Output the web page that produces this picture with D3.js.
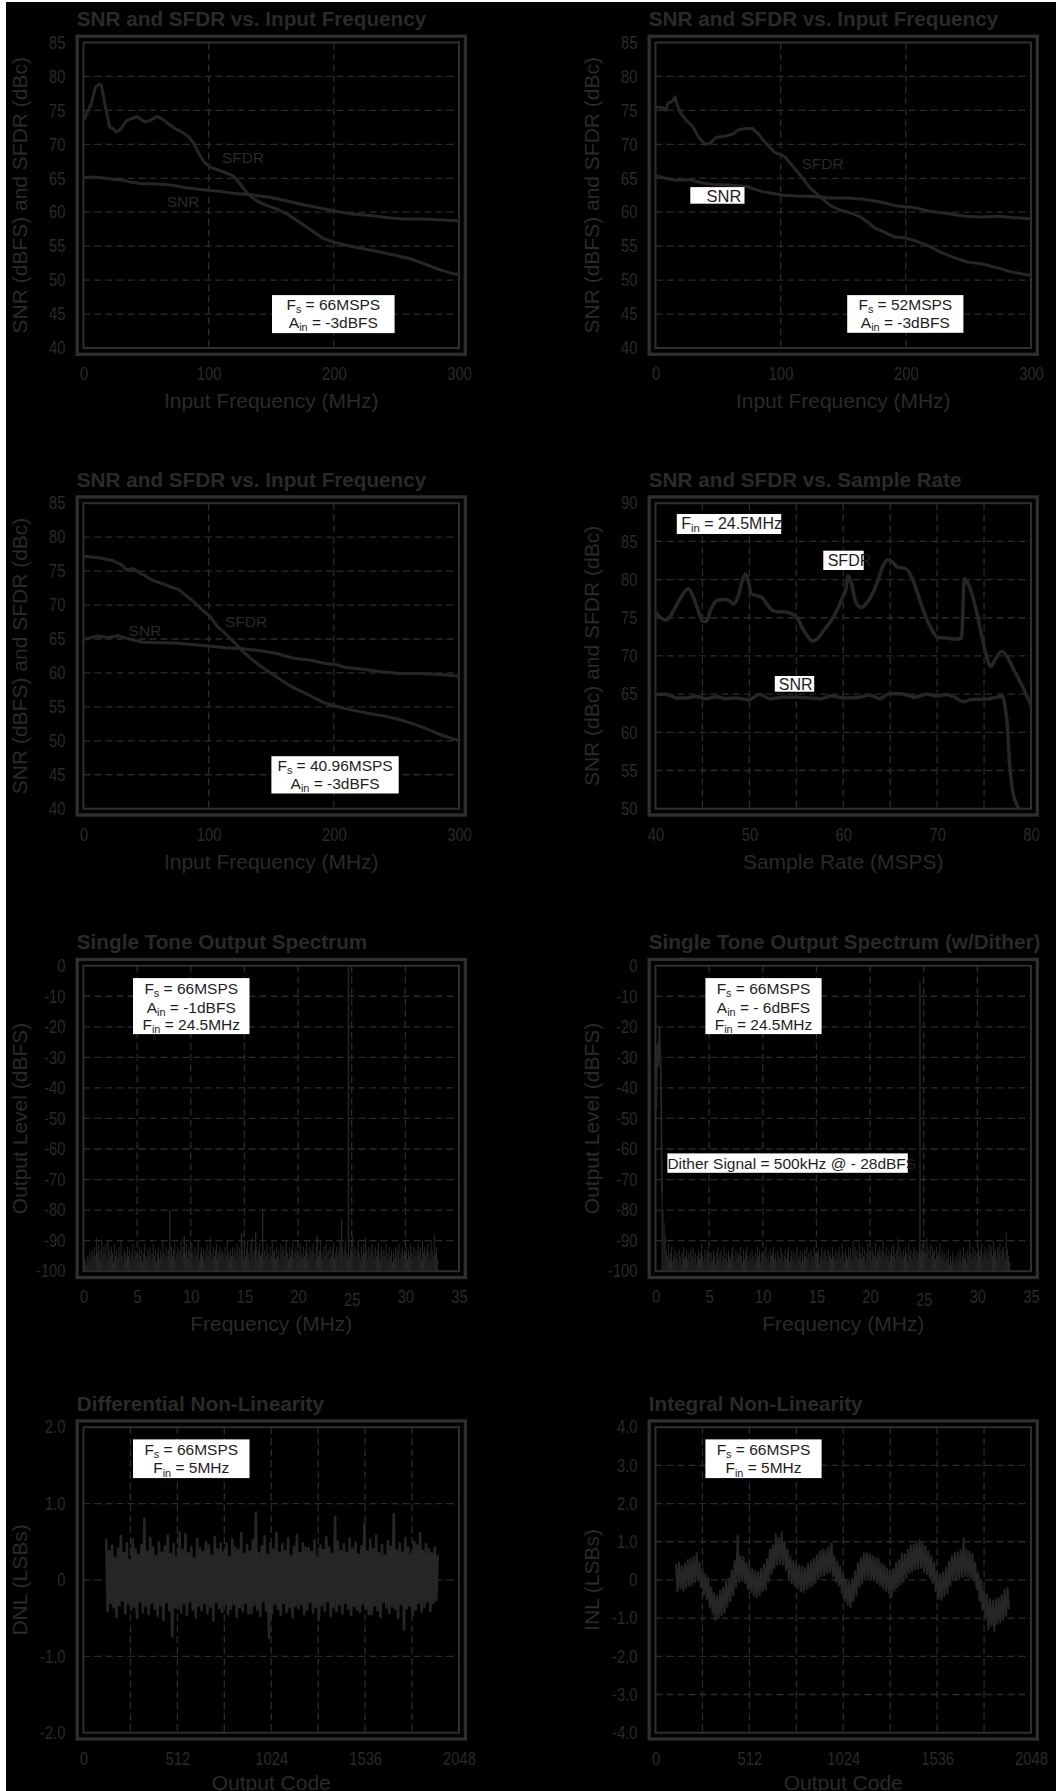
<!DOCTYPE html>
<html>
<head>
<meta charset="utf-8">
<script src="https://cdn.jsdelivr.net/npm/d3@7"></script>
<style>
  html, body { margin: 0; padding: 0; background: #000; }
  svg { display: block; }
</style>
</head>
<body>
<script>
// ---------- data ----------
// SNR / SFDR vs input frequency, Fs = 66MSPS
var fig1SfdrX = [0.8,6.2,9.7,12.9,14.3,17,21,23.7,26.4,29.9,34.4,38.5,42.5,46.5,49.2,53.3,58.6,62.7,68,73.4,78.8,84.2,88.2,92.3,96.3,101.7,111.1,119.2,124.6,131.3,138,146.1,154.2,162.2,170.3,178.4,186.4,191.8,199.9,210.7,224.1,237.6,251,261.8,272.5,283.3,294.1,300];
var fig1Sfdr  = [73.8,76.0,78.5,78.9,78.7,76.0,72.5,72.3,71.8,72.3,73.5,73.8,74.1,73.6,73.3,73.5,74.1,73.8,73.0,72.3,71.8,71.1,70.1,68.6,67.4,66.6,66.0,65.4,64.3,62.7,61.7,61.0,60.5,59.8,58.8,57.8,56.8,56.1,55.6,55.1,54.6,54.1,53.6,53.1,52.4,51.6,51.0,50.8];
var fig1SnrX  = [0.8,11.6,22.3,30.4,38.5,46.5,54.6,65.4,73.4,81.5,95,108.4,119.2,132.6,148.8,162.2,175.7,189.1,202.6,216,229.5,245.6,256.4,272.5,283.3,300];
var fig1Snr   = [65.15,65.15,64.9,64.75,64.4,64.2,64.2,64.1,63.9,63.6,63.3,63.1,62.8,62.6,62.2,61.7,61.1,60.6,60.1,59.7,59.5,59.15,59.0,59.0,58.9,58.75];

// Fs = 52MSPS
var fig2SfdrX = [0,5.4,8,10.2,13.4,15.6,17.4,20.1,24.1,29.5,34.9,39.7,44.3,48.3,55,61.7,65.7,72.4,77.3,81.8,88.5,95.3,103.3,110,116.7,123.4,131.5,139.5,146.2,155.6,163.7,169,175.7,182.5,190.5,198.6,206.6,217.3,228.1,238.8,249.5,260.3,273.7,284.4,299.2];
var fig2Sfdr  = [75.5,75.4,75.0,76.1,76.3,77.0,75.8,74.6,73.6,72.7,70.9,70.0,70.25,71.0,71.2,71.5,72.1,72.35,72.35,71.6,70.1,68.8,68.2,66.7,65.2,63.6,62.3,61.0,60.4,59.9,59.3,58.6,57.6,57.1,56.4,56.25,55.85,55.1,54.1,53.3,52.65,52.4,51.8,51.2,50.7];
var fig2SnrX  = [0,8,16.1,26.8,37.6,45.6,59,72.4,85.9,93.9,102,112.7,126.1,139.5,153,166.4,179.8,193.2,206.6,220,233.4,246.8,260.3,273.7,287.1,299.2];
var fig2Snr   = [65.4,65.0,64.7,64.8,64.3,64.1,64.0,63.8,63.0,62.75,62.5,62.4,62.3,62.1,62.1,61.9,61.5,60.9,60.7,60.1,59.8,59.4,59.3,59.4,59.2,59.05];

// Fs = 40.96MSPS
var fig3SfdrX = [0.8,11.5,22.3,30.3,34.3,39.7,45,49.1,54.4,59.8,65.1,70.5,75.9,81.2,87.9,94.6,101.3,106.7,112.1,118.8,125.5,132.2,138.9,145.6,152.3,160.3,167,175,183.1,191.2,199.2,209.9,220.6,231.4,242.1,252.8,263.5,274.3,285,298.9];
var fig3Sfdr  = [77.2,76.95,76.6,75.95,75.2,75.35,74.7,74.35,73.7,73.35,73.05,72.6,72.3,71.5,70.5,69.3,68.3,66.9,66.0,64.8,63.5,62.35,61.35,60.45,59.65,58.65,57.9,57.2,56.45,55.7,55.2,54.7,54.3,53.9,53.6,53.1,52.5,51.75,50.9,50.1];
var fig3SnrX  = [0.8,11.5,19.6,27.6,35.7,46.4,59.8,73.2,86.6,100,113.4,126.8,140.2,153.6,167,180.4,191.2,201.9,209.9,223.3,236.7,252.8,268.9,282.3,298.9];
var fig3Snr   = [64.95,65.45,65.2,65.5,65.05,64.55,64.45,64.4,64.2,63.95,63.7,63.55,63.3,62.9,62.2,61.9,61.45,61.2,60.8,60.55,60.2,59.9,59.9,59.8,59.55];

// SNR / SFDR vs sample rate, Fin = 24.5MHz
var fig4SfdrX = [40,40.5,41.1,41.6,42.3,43.0,43.5,43.9,44.5,45.0,45.4,45.9,46.6,47.4,47.9,48.3,48.8,49.3,49.6,49.9,50.2,50.8,51.3,51.8,52.4,52.9,53.6,54.3,55.1,55.6,56.2,56.7,57.2,57.9,58.7,59.4,59.9,60.3,60.5,60.8,61.3,61.9,62.4,63.0,63.7,64.2,64.75,65.3,65.8,66.5,67.3,68,68.7,69.4,70.1,71.0,71.9,72.6,72.9,73.4,74.1,74.8,75.3,75.7,76.2,76.9,77.5,78.2,78.9,80];
var fig4Sfdr  = [75.7,75.05,74.7,75.25,76.8,78.2,78.8,78.1,76.1,74.6,74.5,76.1,77.3,77.4,77.2,76.8,77.8,80.1,80.7,79.8,78.1,77.9,77.7,76.9,76.0,75.8,75.8,75.6,75.05,73.75,72.6,71.95,72.2,73.3,74.6,76.15,77.6,78.75,80.5,79.85,77.2,76.35,76.8,77.9,79.9,81.7,82.6,82.25,81.6,81.5,80.3,77.9,75.4,73.5,72.4,72.35,72.2,72.35,80.1,79.2,76.35,72.4,69.8,68.6,69.6,70.6,69.8,68.1,66.5,63.5];
var fig4SnrX  = [40,41.1,42.2,43.2,44.3,45.4,46.5,47.5,48.6,49.9,51.1,52.2,53.6,55.1,56.5,57.6,58.7,60.1,61.7,62.8,63.9,64.9,66.2,67.6,68.9,69.95,71.0,72.1,72.8,73.7,75.2,76.2,76.95,77.2,77.5,77.7,78.0,78.5,78.7];
var fig4Snr   = [65.0,65.0,64.5,64.5,64.7,64.4,64.65,64.4,64.5,64.25,64.95,64.4,64.6,64.6,64.5,64.4,64.75,64.5,64.6,64.9,64.4,65.05,65.05,64.6,65.0,64.75,64.95,64.45,64.0,64.3,64.35,64.55,64.75,63.65,60.6,56.2,52.7,50.5,50.0];

// FFT noise floor, one value per 0.1MHz bin from 0 to 33MHz
var specBinMHz = 0.1;
var spec1Noise = [
  -99,-97,-96,-98,-95,-97,-94,-96,-93,-95, -92,-95,-89,-94,-91,-96,-93,-90,-95,-92,
  -94,-91,-96,-90,-93,-95,-92,-94,-97,-91, -95,-93,-96,-92,-94,-90,-95,-97,-93,-94,
  -96,-92,-95,-93,-97,-94,-91,-96,-93,-95, -94,-96,-92,-95,-93,-97,-94,-91,-95,-96,
  -93,-95,-92,-96,-94,-91,-95,-93,-97,-94, -92,-96,-93,-95,-90,-94,-96,-92,-95,-93,
  -94,-96,-92,-95,-93,-91,-96,-94,-92,-95, -93,-90,-95,-92,-89,-94,-91,-96,-93,-92,
  -95,-91,-94,-96,-92,-95,-93,-90,-96,-94, -92,-95,-93,-97,-94,-91,-95,-93,-89,-94,
  -96,-92,-95,-93,-91,-96,-94,-92,-95,-93, -94,-96,-92,-95,-90,-94,-96,-93,-95,-92,
  -95,-93,-96,-91,-94,-92,-95,-89,-93,-96, -92,-95,-93,-90,-94,-96,-91,-89,-95,-93,
  -94,-92,-96,-93,-91,-95,-94,-92,-96,-93, -95,-91,-94,-96,-92,-95,-90,-94,-93,-96,
  -92,-95,-93,-96,-91,-94,-92,-95,-93,-90, -94,-96,-92,-95,-93,-91,-96,-94,-92,-95,
  -93,-95,-91,-94,-96,-92,-95,-93,-90,-94, -96,-92,-95,-93,-91,-94,-96,-92,-89,-95,
  -93,-90,-94,-96,-92,-95,-91,-94,-93,-96, -92,-95,-93,-91,-96,-94,-92,-95,-93,-90,
  -94,-92,-95,-93,-90,-94,-96,-92,-95,-93, -91,-88,-94,-92,-95,-93,-90,-94,-96,-92,
  -95,-91,-94,-89,-93,-96,-92,-95,-93,-91, -94,-96,-92,-95,-93,-91,-96,-94,-92,-95,
  -93,-95,-91,-94,-96,-92,-95,-93,-97,-94, -96,-92,-95,-93,-91,-96,-94,-92,-95,-93,
  -94,-92,-96,-93,-95,-91,-94,-96,-92,-95, -93,-95,-91,-94,-92,-96,-90,-94,-92,-95,
  -93,-91,-94,-96,-90,-93,-95,-88,-94,-92, -96
];
var spec1SpurF = [8.05, 9.4, 14.75, 16.05, 16.7, 21.8, 24.06, 24.7];
var spec1SpurL = [-80, -88.5, -87.5, -87, -79.5, -88.5, -83, -0.5];

var spec2Noise = [
  -100,-100,-100,-100,-100,-100,-74,-80,-84,-88, -93,-95,-91,-96,-94,-92,-97,-95,-93,-96,
  -94,-97,-93,-95,-98,-94,-92,-96,-95,-93, -96,-94,-97,-93,-95,-92,-96,-94,-98,-95,
  -93,-96,-94,-91,-95,-97,-93,-96,-94,-92, -95,-97,-94,-96,-93,-95,-98,-94,-92,-96,
  -94,-93,-97,-95,-92,-96,-94,-97,-93,-95, -96,-94,-92,-95,-97,-93,-96,-94,-95,-92,
  -95,-97,-93,-96,-94,-92,-95,-97,-94,-96, -93,-95,-97,-94,-96,-92,-95,-93,-97,-94,
  -96,-93,-95,-92,-96,-94,-97,-93,-95,-94, -92,-96,-94,-97,-93,-95,-96,-92,-94,-97,
  -95,-93,-96,-94,-92,-97,-95,-93,-96,-94, -97,-94,-92,-96,-95,-93,-97,-94,-96,-93,
  -95,-92,-96,-94,-97,-93,-95,-96,-92,-94, -96,-94,-93,-97,-95,-92,-96,-94,-93,-95,
  -97,-93,-95,-94,-96,-92,-95,-97,-93,-96, -94,-92,-96,-95,-91,-94,-97,-93,-95,-96,
  -92,-95,-93,-96,-90,-94,-92,-95,-93,-96, -91,-94,-96,-92,-95,-93,-97,-94,-91,-95,
  -93,-96,-92,-94,-95,-91,-96,-93,-94,-92, -95,-93,-90,-94,-96,-92,-95,-93,-97,-94,
  -92,-95,-91,-94,-96,-93,-89,-95,-92,-94, -96,-93,-95,-92,-94,-97,-91,-95,-93,-96,
  -94,-92,-95,-93,-96,-94,-92,-95,-93,-91, -95,-92,-94,-89,-93,-96,-91,-95,-92,-94,
  -93,-96,-92,-95,-94,-91,-95,-93,-96,-94, -97,-94,-96,-93,-98,-95,-97,-94,-96,-98,
  -95,-97,-94,-96,-93,-97,-95,-92,-96,-94, -97,-93,-95,-90,-94,-96,-92,-95,-93,-96,
  -94,-92,-95,-93,-91,-96,-94,-92,-95,-93, -96,-91,-94,-92,-95,-90,-94,-93,-96,-92,
  -94,-91,-95,-93,-92,-94,-96,-87,-93,-95, -97
];
// dither tone near DC, drawn as a trace
var ditherF = [0.08, 0.12, 0.18, 0.25, 0.30, 0.38, 0.42, 0.50, 0.55, 0.60];
var ditherL = [-47, -30, -26, -33, -27, -20, -28, -35, -52, -74];
var spec2SpurF = [24.65];
var spec2SpurL = [-5.5];

// DNL, one value per 8 codes starting at code 124
var dnlStart = 124, dnlStep = 8;
var dnl = [
  0.52,-0.41,0.38,-0.30,0.45,-0.36,0.29,-0.48,0.41,-0.33,
  0.57,-0.27,0.35,-0.44,0.48,-0.31,0.26,-0.39,0.53,-0.35,
  0.40,-0.50,0.33,-0.28,0.46,-0.42,0.80,-0.34,0.37,-0.45,
  0.55,-0.30,0.42,-0.38,0.31,-0.47,0.49,-0.33,0.36,-0.52,
  0.44,-0.29,0.58,-0.40,0.34,-0.74,0.47,-0.36,0.30,-0.37,
  0.62,-0.43,0.39,-0.31,0.60,-0.46,0.35,-0.28,0.43,-0.39,
  0.28,-0.49,0.54,-0.34,0.41,-0.40,0.37,-0.30,0.50,-0.44,
  0.45,-0.35,0.32,-0.53,0.56,-0.29,0.40,-0.37,0.48,-0.42,
  0.36,-0.32,0.48,-0.45,0.30,-0.38,0.53,-0.31,0.42,-0.48,
  0.39,-0.36,0.61,-0.41,0.34,-0.30,0.46,-0.44,0.38,-0.43,
  0.52,-0.33,0.88,-0.39,0.35,-0.47,0.44,-0.28,0.57,-0.40,
  0.33,-0.76,0.49,-0.44,0.40,-0.31,0.62,-0.38,0.36,-0.46,
  0.47,-0.30,0.38,-0.42,0.55,-0.36,0.31,-0.49,0.43,-0.34,
  0.59,-0.37,0.35,-0.32,0.48,-0.45,0.42,-0.39,0.41,-0.29,
  0.37,-0.43,0.52,-0.35,0.30,-0.51,0.45,-0.33,0.39,-0.40,
  0.56,-0.28,0.42,-0.47,0.34,-0.36,0.82,-0.41,0.50,-0.32,
  0.38,-0.44,0.47,-0.30,0.36,-0.38,0.54,-0.46,0.41,-0.34,
  0.49,-0.39,0.33,-0.42,0.44,-0.31,0.74,-0.37,0.37,-0.45,
  0.53,-0.45,0.40,-0.33,0.58,-0.40,0.35,-0.48,0.46,-0.29,
  0.32,-0.36,0.51,-0.43,0.43,-0.35,0.86,-0.38,0.39,-0.50,
  0.48,-0.31,0.36,-0.65,0.55,-0.37,0.42,-0.33,0.34,-0.46,
  0.50,-0.39,0.45,-0.30,0.61,-0.42,0.38,-0.35,0.47,-0.28,
  0.40,-0.41,0.35,-0.30,0.42,-0.27,0.31
];

// INL, one value per 8 codes starting at code 112
var inlStart = 112, inlStep = 8;
var inl = [
  0.40,-0.30,0.45,-0.22,0.35,-0.28,0.42,-0.20,0.52,-0.15,
  0.55,-0.12,0.60,-0.05,0.70,-0.02,0.45,-0.20,0.30,-0.38,
  0.15,-0.50,0.05,-0.72,-0.20,-0.90,-0.35,-1.05,-0.42,-1.00,
  -0.28,-0.92,-0.20,-0.85,-0.05,-0.70,0.05,-0.55,0.25,-0.40,
  0.50,-0.18,1.15,-0.05,0.62,-0.02,0.60,-0.08,0.45,-0.25,
  0.35,-0.32,0.28,-0.40,0.22,-0.45,0.20,-0.40,0.30,-0.30,
  0.40,-0.25,0.55,-0.05,0.80,0.15,0.90,0.30,1.20,0.40,
  1.10,0.42,1.25,0.40,1.00,0.25,0.80,0.05,0.60,-0.10,
  0.50,-0.15,0.42,-0.22,0.38,-0.30,0.35,-0.32,0.32,-0.25,
  0.42,-0.20,0.48,-0.15,0.55,-0.08,0.65,0.02,0.75,0.10,
  0.80,0.12,0.78,0.18,0.85,0.20,0.95,0.10,0.62,-0.05,
  0.48,-0.15,0.35,-0.35,0.15,-0.55,0.02,-0.65,-0.05,-0.72,
  0.02,-0.55,0.22,-0.40,0.45,-0.18,0.58,-0.10,0.70,0.05,
  0.72,0.05,0.68,0.02,0.62,-0.02,0.58,-0.08,0.55,-0.15,
  0.42,-0.22,0.38,-0.28,0.30,-0.35,0.25,-0.45,0.28,-0.28,
  0.45,-0.20,0.52,-0.12,0.70,-0.05,0.68,0.05,0.80,0.18,
  0.90,0.22,0.92,0.28,1.00,0.30,1.05,0.32,0.95,0.20,
  0.88,0.15,0.75,0.05,0.62,-0.08,0.45,-0.30,0.22,-0.50,
  0.15,-0.52,0.20,-0.42,0.32,-0.35,0.48,-0.15,0.62,0.00,
  0.70,0.02,0.72,0.05,0.78,0.08,1.10,0.10,0.80,0.08,
  0.75,0.05,0.68,-0.02,0.45,-0.25,0.18,-0.55,0.00,-0.80,
  -0.25,-1.00,-0.38,-1.30,-0.50,-1.20,-0.55,-1.35,-0.50,-1.15,
  -0.48,-1.12,-0.40,-1.05,-0.25,-0.95,-0.20,-0.75
];

// tick labels
var freqTicks = [0, 100, 200, 300];
var snrTicks = [40, 45, 50, 55, 60, 65, 70, 75, 80, 85];
var rateTicks = [40, 50, 60, 70, 80];
var rateSnrTicks = [50, 55, 60, 65, 70, 75, 80, 85, 90];
var specFreqTicks = [0, 5, 10, 15, 20, 25, 30, 35];
var specLevelTicks = [-100, -90, -80, -70, -60, -50, -40, -30, -20, -10, 0];
var codeTicks = [0, 512, 1024, 1536, 2048];
var dnlTicks = [-2, -1, 0, 1, 2];
var inlTicks = [-4, -3, -2, -1, 0, 1, 2, 3, 4];

// ---------- layout / style ----------
var PW = 375.5, PH = 305.5;
var colX = [83.5, 655.5];
var rowY = [42.5, 503.2, 965.7, 1427.2];
var TEXT = "#2a2a2a", GRID = "#2b2b2b", FRAME = "#2f2f2f", CURVE = "#262626", BOXTEXT = "#1e1e1e";
var SANS = '"Liberation Sans", Arial, Helvetica, sans-serif';

function textWidth(font, s) {
  var c = document.createElement("canvas").getContext("2d");
  c.font = font;
  return c.measureText(s).width;
}
var narrowOK = Math.abs(textWidth('18px "Liberation Sans Narrow", monospace', "8888") - textWidth("18px monospace", "8888")) > 1;
var TICKFONT = narrowOK ? '"Liberation Sans Narrow", "Arial Narrow", sans-serif' : SANS;
var tickSquash = narrowOK ? null : "scale(0.82,1)";

var svg = d3.select("body").append("svg")
  .attr("width", 1056).attr("height", 1791)
  .style("background", "#000");

svg.append("rect").attr("x", 0).attr("y", 0).attr("width", 1056).attr("height", 1791).attr("fill", "#000");
// thin white page edge on the left and top
svg.append("rect").attr("x", 0).attr("y", 0).attr("width", 6).attr("height", 1791).attr("fill", "#fff");
svg.append("rect").attr("x", 0).attr("y", 0).attr("width", 1056).attr("height", 2).attr("fill", "#fff");

var clipN = 0;

function panel(p) {
  var g = svg.append("g").attr("transform", "translate(" + p.ox + "," + p.oy + ")");
  var x = d3.scaleLinear().domain(p.xDomain).range([0, PW]);
  var y = d3.scaleLinear().domain(p.yDomain).range([PH, 0]);

  // dashed grid
  g.append("g").selectAll("line").data(p.xGrid).join("line")
    .attr("x1", function(d) { return x(d); }).attr("x2", function(d) { return x(d); })
    .attr("y1", 0).attr("y2", PH)
    .attr("stroke", GRID).attr("stroke-width", 1.3).attr("stroke-dasharray", "7,4");
  g.append("g").selectAll("line").data(p.yGrid).join("line")
    .attr("y1", function(d) { return y(d); }).attr("y2", function(d) { return y(d); })
    .attr("x1", 0).attr("x2", PW)
    .attr("stroke", GRID).attr("stroke-width", 1.3).attr("stroke-dasharray", "7,4");

  // double frame
  g.append("rect").attr("x", 0).attr("y", 0).attr("width", PW).attr("height", PH)
    .attr("fill", "none").attr("stroke", FRAME).attr("stroke-width", 2);
  g.append("rect").attr("x", -6.3).attr("y", -6.3).attr("width", PW + 12.6).attr("height", PH + 12.6)
    .attr("fill", "none").attr("stroke", FRAME).attr("stroke-width", 3.3);

  // axes (labels only)
  var ya = g.append("g").attr("transform", "translate(-18,0)")
    .call(d3.axisLeft(y).tickValues(p.yTicks).tickSize(0).tickPadding(0).tickFormat(p.yFmt));
  var xa = g.append("g").attr("transform", "translate(0," + (PH + 19.2) + ")")
    .call(d3.axisBottom(x).tickValues(p.xTicks).tickSize(0).tickPadding(0).tickFormat(p.xFmt || String));
  [ya, xa].forEach(function(a) {
    a.select(".domain").remove();
    a.selectAll("text").attr("fill", TEXT).style("font-family", TICKFONT).style("font-size", "18px");
    if (tickSquash) a.selectAll("text").attr("transform", tickSquash);
  });
  if (p.lowTick != null) {
    xa.selectAll(".tick").filter(function(d) { return d === p.lowTick; }).select("text").attr("y", 3);
  }

  // titles
  g.append("text").attr("x", -6.7).attr("y", -16.4).text(p.title)
    .attr("fill", TEXT).style("font-family", SANS).style("font-size", "20.7px").style("font-weight", "bold");
  g.append("text").attr("x", PW / 2).attr("y", PH + (p.xTitleDy || 60)).attr("text-anchor", "middle").text(p.xTitle)
    .attr("fill", TEXT).style("font-family", SANS).style("font-size", "21px");
  g.append("text").attr("transform", "translate(-57," + (PH / 2) + ") rotate(-90)")
    .attr("text-anchor", "middle").text(p.yTitle)
    .attr("fill", TEXT).style("font-family", SANS).style("font-size", "21px");

  var id = "clip" + (clipN++);
  g.append("clipPath").attr("id", id).append("rect")
    .attr("x", 0).attr("y", -1).attr("width", PW).attr("height", PH + 2);
  var plot = g.append("g").attr("clip-path", "url(#" + id + ")");
  return { g: g, plot: plot, x: x, y: y };
}

function seriesLine(P, xs, ys, width, curve) {
  var pts = xs.map(function(v, i) { return [v, ys[i]]; });
  P.plot.append("path").datum(pts)
    .attr("d", d3.line().x(function(d) { return P.x(d[0]); }).y(function(d) { return P.y(d[1]); }).curve(curve || d3.curveLinear))
    .attr("fill", "none").attr("stroke", CURVE).attr("stroke-width", width)
    .attr("stroke-linejoin", "round").attr("stroke-linecap", "round");
}

function grayLabel(P, dx, dy, s) {
  P.g.append("text").attr("x", dx).attr("y", dy).text(s)
    .attr("fill", TEXT).style("font-family", SANS).style("font-size", "15.5px");
}

// lines: array of arrays; odd-index pieces are subscripts
function noteBox(P, b) {
  P.g.append("rect").attr("x", b.x).attr("y", b.y).attr("width", b.w).attr("height", b.h).attr("fill", "#fff");
  b.lines.forEach(function(parts, li) {
    var t = P.g.append("text")
      .attr("x", b.anchor === "start" ? b.x + (b.tx || 0) : b.x + b.w / 2)
      .attr("y", b.y + b.base[li])
      .attr("text-anchor", b.anchor || "middle")
      .attr("fill", BOXTEXT).style("font-family", SANS).style("font-size", (b.fs || 15.5) + "px");
    parts.forEach(function(s, k) {
      if (!s) return;
      var ts = t.append("tspan").text(s);
      if (k % 2 === 1) ts.style("font-size", "70%").attr("dy", "0.3em");
      else if (k > 0) ts.attr("dy", "-0.21em");
    });
  });
}

var fmtInt = function(d) { return String(d); };
var fmtLsb = function(d) { return d === 0 ? "0" : d.toFixed(1); };

var freqPanels = [
  { ox: colX[0], oy: rowY[0], sx: fig1SfdrX, s: fig1Sfdr, nx: fig1SnrX, n: fig1Snr },
  { ox: colX[1], oy: rowY[0], sx: fig2SfdrX, s: fig2Sfdr, nx: fig2SnrX, n: fig2Snr },
  { ox: colX[0], oy: rowY[1], sx: fig3SfdrX, s: fig3Sfdr, nx: fig3SnrX, n: fig3Snr }
];
var FP = freqPanels.map(function(f) {
  var P = panel({
    ox: f.ox, oy: f.oy, xDomain: [0, 300], yDomain: [40, 85],
    xTicks: freqTicks, yTicks: snrTicks, xGrid: [100, 200], yGrid: [45, 50, 55, 60, 65, 70, 75, 80],
    yFmt: fmtInt, title: "SNR and SFDR vs. Input Frequency",
    xTitle: "Input Frequency (MHz)", yTitle: "SNR (dBFS) and SFDR (dBc)"
  });
  seriesLine(P, f.sx, f.s, 3);
  seriesLine(P, f.nx, f.n, 3);
  return P;
});

// annotations panel 1-3
grayLabel(FP[0], 138.5, 120.6, "SFDR");
grayLabel(FP[0], 83.2, 164.6, "SNR");
noteBox(FP[0], { x: 188.5, y: 252.6, w: 122.6, h: 38, base: [14.6, 32.6], lines: [["F", "s", " = 66MSPS"], ["A", "in", " = -3dBFS"]] });

grayLabel(FP[1], 145.9, 126.9, "SFDR");
noteBox(FP[1], { x: 34.8, y: 144.6, w: 54.2, h: 16.6, base: [15.2], anchor: "start", tx: 16.2, fs: 16.5, lines: [["SNR"]] });
noteBox(FP[1], { x: 191.7, y: 252.6, w: 116.2, h: 37.7, base: [14.6, 32.6], lines: [["F", "s", " = 52MSPS"], ["A", "in", " = -3dBFS"]] });

grayLabel(FP[2], 141.5, 123.5, "SFDR");
grayLabel(FP[2], 45.1, 132.8, "SNR");
noteBox(FP[2], { x: 187.9, y: 253, w: 127.3, h: 37.3, base: [14.6, 32.6], lines: [["F", "s", " = 40.96MSPS"], ["A", "in", " = -3dBFS"]] });

// panel 4: vs sample rate
var P4 = panel({
  ox: colX[1], oy: rowY[1], xDomain: [40, 80], yDomain: [50, 90],
  xTicks: rateTicks, yTicks: rateSnrTicks, xGrid: [45, 50, 55, 60, 65, 70, 75], yGrid: [55, 60, 65, 70, 75, 80, 85],
  yFmt: fmtInt, title: "SNR and SFDR vs. Sample Rate",
  xTitle: "Sample Rate (MSPS)", yTitle: "SNR (dBc) and SFDR (dBc)"
});
seriesLine(P4, fig4SfdrX, fig4Sfdr, 3.5, d3.curveMonotoneX);
seriesLine(P4, fig4SnrX, fig4Snr, 3.5, d3.curveMonotoneX);
noteBox(P4, { x: 21.3, y: 10.8, w: 104.4, h: 20, base: [14.6], anchor: "start", tx: 4.4, fs: 16, lines: [["F", "in", " = 24.5MHz"]] });
noteBox(P4, { x: 167.8, y: 47.5, w: 40.4, h: 19.3, base: [15], anchor: "start", tx: 4.4, fs: 16, lines: [["SFDR"]] });
noteBox(P4, { x: 119.3, y: 172.8, w: 39.4, h: 15.7, base: [14], anchor: "start", tx: 4, fs: 16, lines: [["SNR"]] });

// panels 5-6: spectra
function spectrum(P, noise, spurF, spurL) {
  var floor = P.y.domain()[0];
  var bars = noise.map(function(v, i) { return [i * specBinMHz, v]; }).filter(function(d) { return d[1] > floor; });
  P.plot.append("g").selectAll("line").data(bars).join("line")
    .attr("x1", function(d) { return P.x(d[0]); }).attr("x2", function(d) { return P.x(d[0]); })
    .attr("y1", P.y(floor)).attr("y2", function(d) { return P.y(d[1]); })
    .attr("stroke", CURVE).attr("stroke-width", 1.1);
  var spurs = spurF.map(function(f, i) { return [f, spurL[i]]; });
  P.plot.append("g").selectAll("line").data(spurs).join("line")
    .attr("x1", function(d) { return P.x(d[0]); }).attr("x2", function(d) { return P.x(d[0]); })
    .attr("y1", P.y(floor)).attr("y2", function(d) { return P.y(d[1]); })
    .attr("stroke", CURVE).attr("stroke-width", 1.4);
}

var specCfg = {
  xDomain: [0, 35], yDomain: [-100, 0], xTicks: specFreqTicks, yTicks: specLevelTicks,
  xGrid: [5, 10, 15, 20, 25, 30], yGrid: [-90, -80, -70, -60, -50, -40, -30, -20, -10],
  yFmt: fmtInt, xTitle: "Frequency (MHz)", yTitle: "Output Level (dBFS)", lowTick: 25
};
var P5 = panel(Object.assign({ ox: colX[0], oy: rowY[2], title: "Single Tone Output Spectrum" }, specCfg));
spectrum(P5, spec1Noise, spec1SpurF, spec1SpurL);
noteBox(P5, { x: 49.5, y: 12.4, w: 116.5, h: 56, base: [16, 34.5, 52],
  lines: [["F", "s", " = 66MSPS"], ["A", "in", " = -1dBFS"], ["F", "in", " = 24.5MHz"]] });

var P6 = panel(Object.assign({ ox: colX[1], oy: rowY[2], title: "Single Tone Output Spectrum (w/Dither)" }, specCfg));
spectrum(P6, spec2Noise, spec2SpurF, spec2SpurL);
seriesLine(P6, ditherF, ditherL, 1.8);
noteBox(P6, { x: 49.9, y: 12.4, w: 116.2, h: 56, base: [16, 34.5, 52],
  lines: [["F", "s", " = 66MSPS"], ["A", "in", " = - 6dBFS"], ["F", "in", " = 24.5MHz"]] });
noteBox(P6, { x: 11.9, y: 187.7, w: 240.4, h: 19.4, base: [15.6], anchor: "start", tx: 0, fs: 15.5,
  lines: [["Dither Signal = 500kHz @ - 28dBFS"]] });

// panels 7-8: DNL / INL
var codeGrid = [256, 512, 768, 1024, 1280, 1536, 1792];
var P7 = panel({
  ox: colX[0], oy: rowY[3], xDomain: [0, 2048], yDomain: [-2, 2],
  xTicks: codeTicks, yTicks: dnlTicks, xGrid: codeGrid, yGrid: [-1, 0, 1],
  yFmt: fmtLsb, title: "Differential Non-Linearity", xTitle: "Output Code", yTitle: "DNL (LSBs)", xTitleDy: 57.5
});
seriesLine(P7, dnl.map(function(v, i) { return dnlStart + i * dnlStep; }), dnl, 2.6);
noteBox(P7, { x: 49.5, y: 12.2, w: 116.5, h: 38.7, base: [15.7, 34],
  lines: [["F", "s", " = 66MSPS"], ["F", "in", " = 5MHz"]] });

var P8 = panel({
  ox: colX[1], oy: rowY[3], xDomain: [0, 2048], yDomain: [-4, 4],
  xTicks: codeTicks, yTicks: inlTicks, xGrid: codeGrid, yGrid: [-3, -2, -1, 0, 1, 2, 3],
  yFmt: fmtLsb, title: "Integral Non-Linearity", xTitle: "Output Code", yTitle: "INL (LSBs)", xTitleDy: 57.5
});
seriesLine(P8, inl.map(function(v, i) { return inlStart + i * inlStep; }), inl, 2);
noteBox(P8, { x: 49.9, y: 12.2, w: 116.2, h: 38.7, base: [15.7, 34],
  lines: [["F", "s", " = 66MSPS"], ["F", "in", " = 5MHz"]] });
</script>
</body>
</html>
